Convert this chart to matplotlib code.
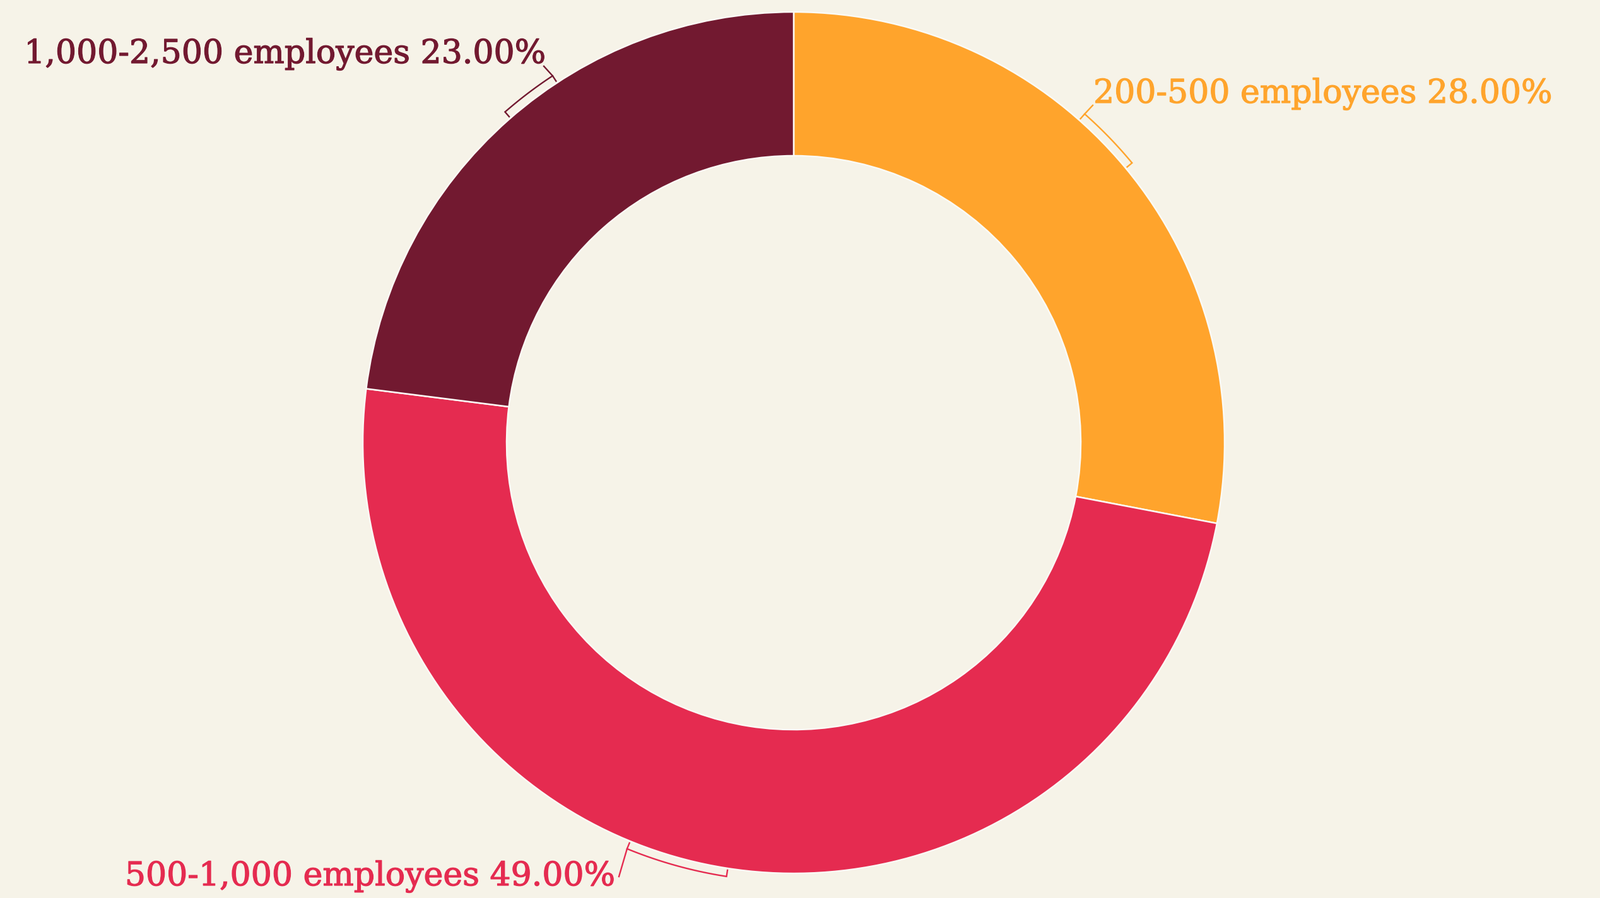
import numpy as np
import matplotlib
matplotlib.use("Agg")
import matplotlib.pyplot as plt
import matplotlib.patheffects as pe
from matplotlib import font_manager

labels = ["200-500 employees", "500-1,000 employees", "1,000-2,500 employees"]
shares = [28.00, 49.00, 23.00]
colors = ["#FFA42C", "#E52B50", "#721930"]

bg = "#F6F3E8"

names = {f.name for f in font_manager.fontManager.ttflist}
serif = "DejaVu Serif Condensed" if "DejaVu Serif Condensed" in names else "DejaVu Serif"

W, H = 2536, 1424
fig = plt.figure(figsize=(W / 100, H / 100), dpi=100, facecolor=bg)
ax = fig.add_axes([0, 0, 1, 1])

cx, cy = 1258, H - 702
r_out, r_in = 683, 455

ax.pie(shares, colors=colors, startangle=90, counterclock=False,
       center=(cx, cy), radius=r_out, frame=True,
       wedgeprops=dict(width=r_out - r_in, edgecolor="#FBFAF5", linewidth=1.8))
ax.set_xlim(0, W)
ax.set_ylim(0, H)
ax.set_aspect("equal")
ax.axis("off")


def pt(r, a):
    t = np.radians(a)
    return cx + r * np.cos(t), cy + r * np.sin(t)


def bracket(a1, a2, color, text_xy):
    # arc just outside the ring, small ticks back toward it, leader to the label
    rb, rt = 696, 686
    aa = np.linspace(a1, a2, 60)
    xs, ys = pt(rb, aa)
    ax.plot(xs, ys, color=color, lw=1.7, solid_capstyle="butt")
    for a in (a1, a2):
        x0, y0 = pt(rb, a)
        x1, y1 = pt(rt, a)
        ax.plot([x0, x1], [y0, y1], color=color, lw=1.7)
    x0, y0 = pt(rb, a1)
    ax.plot([x0, text_xy[0]], [y0, text_xy[1]], color=color, lw=1.7)


fs = 37.5
# 200-500
bracket(48.5, 39.6, colors[0], (1732, H - 167))
t = ax.text(1733, H - 149, f"{labels[0]} {shares[0]:.2f}%", color=colors[0],
            fontsize=fs, family=serif, ha="left", va="center")
t.set_path_effects([pe.withStroke(linewidth=0.9, foreground=colors[0])])
# 500-1,000
bracket(-112.3, -98.8, colors[1], (981, H - 1390))
t = ax.text(975, H - 1390, f"{labels[1]} {shares[1]:.2f}%", color=colors[1],
            fontsize=fs, family=serif, ha="right", va="center")
t.set_path_effects([pe.withStroke(linewidth=0.9, foreground=colors[1])])
# 1,000-2,500
bracket(123.3, 131.1, colors[2], (862, H - 105))
t = ax.text(865, H - 86, f"{labels[2]} {shares[2]:.2f}%", color=colors[2],
            fontsize=fs, family=serif, ha="right", va="center")
t.set_path_effects([pe.withStroke(linewidth=0.9, foreground=colors[2])])

fig.savefig("out.png", dpi=100, facecolor=bg)
